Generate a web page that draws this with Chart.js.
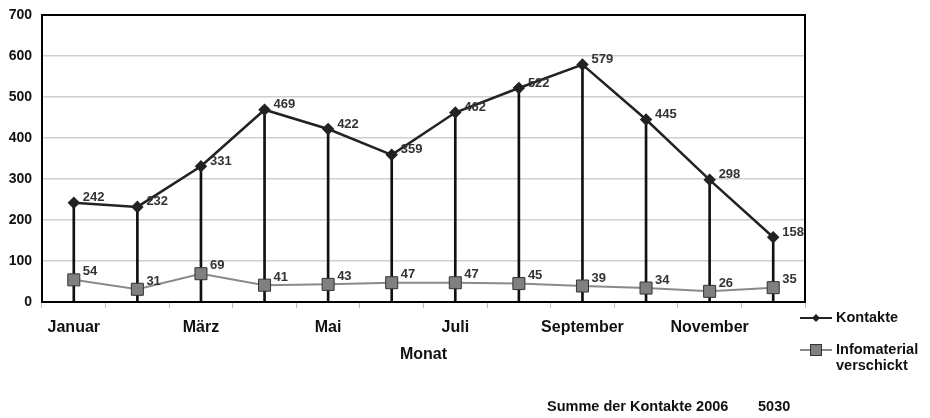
<!DOCTYPE html>
<html>
<head>
    <meta charset="utf-8">
    <title>Kontakte 2006</title>
    <script src="https://cdn.jsdelivr.net/npm/chart.js@4.4.1/dist/chart.umd.min.js"></script>
    <style>
        body { margin: 0; background: #fff; }
        #wrap { position: relative; width: 930px; height: 418px; }
    </style>
    <script>
        var months = ["Januar", "Februar", "März", "April", "Mai", "Juni", "Juli", "August", "September", "Oktober", "November", "Dezember"];
        var kontakte = [242, 232, 331, 469, 422, 359, 462, 522, 579, 445, 298, 158];
        var infomaterial = [54, 31, 69, 41, 43, 47, 47, 45, 39, 34, 26, 35];
        var yTicks = [0, 100, 200, 300, 400, 500, 600, 700];
        var legendNames = [["Kontakte"], ["Infomaterial", "verschickt"]];
        var footerLabel = "Summe der Kontakte 2006";
        var footerValue = "5030";

        var FONT = "'Liberation Sans', Arial, sans-serif";

        // frame round the plot area, value labels, legend and footer
        var extras = {
            id: 'extras',
            afterDatasetsDraw: function (chart) {
                var ctx = chart.ctx;
                var a = chart.chartArea;
                ctx.save();
                ctx.strokeStyle = '#000';
                ctx.lineWidth = 2;
                ctx.strokeRect(a.left, a.top, a.right - a.left, a.bottom - a.top);

                ctx.font = 'bold 13px ' + FONT;
                ctx.fillStyle = '#333';
                ctx.textBaseline = 'middle';
                ctx.textAlign = 'left';
                chart.getDatasetMeta(2).data.forEach(function (pt, i) {
                    ctx.fillText(kontakte[i], pt.x + 9, pt.y - 5);
                });
                chart.getDatasetMeta(1).data.forEach(function (pt, i) {
                    ctx.fillText(infomaterial[i], pt.x + 9, pt.y - 8);
                });
                ctx.restore();
            },
            afterDraw: function (chart) {
                var ctx = chart.ctx;
                ctx.save();
                // legend
                var lx = 800;
                ctx.lineWidth = 2;
                ctx.strokeStyle = '#222';
                ctx.beginPath(); ctx.moveTo(lx, 318); ctx.lineTo(lx + 32, 318); ctx.stroke();
                ctx.fillStyle = '#222';
                ctx.beginPath();
                ctx.moveTo(lx + 16, 314); ctx.lineTo(lx + 20, 318); ctx.lineTo(lx + 16, 322); ctx.lineTo(lx + 12, 318);
                ctx.closePath(); ctx.fill();

                ctx.strokeStyle = '#888';
                ctx.beginPath(); ctx.moveTo(lx, 350); ctx.lineTo(lx + 32, 350); ctx.stroke();
                ctx.fillStyle = '#808080';
                ctx.fillRect(lx + 10, 344, 12, 12);
                ctx.strokeStyle = '#333';
                ctx.lineWidth = 1;
                ctx.strokeRect(lx + 10.5, 344.5, 11, 11);

                ctx.fillStyle = '#111';
                ctx.font = 'bold 14.5px ' + FONT;
                ctx.textBaseline = 'middle';
                ctx.textAlign = 'left';
                ctx.fillText(legendNames[0][0], lx + 36, 318);
                ctx.fillText(legendNames[1][0], lx + 36, 350);
                ctx.fillText(legendNames[1][1], lx + 36, 366);

                // footer
                ctx.font = 'bold 14.5px ' + FONT;
                ctx.fillText(footerLabel, 547, 407);
                ctx.fillText(footerValue, 758, 407);
                ctx.restore();
            }
        };

        window.addEventListener('load', function () {
            new Chart(document.getElementById('chart').getContext('2d'), {
                type: 'bar',
                data: {
                    labels: months,
                    datasets: [{
                        type: 'bar',
                        label: 'Fallinien',
                        data: kontakte.map(function (v) { return [0, v]; }),
                        backgroundColor: '#111',
                        barThickness: 2,
                        order: 3
                    }, {
                        type: 'line',
                        label: 'Infomaterial verschickt',
                        data: infomaterial,
                        borderColor: '#8a8a8a',
                        borderWidth: 2,
                        pointStyle: 'rect',
                        pointRadius: 8.5,
                        pointBackgroundColor: '#808080',
                        pointBorderColor: '#333',
                        pointBorderWidth: 1,
                        tension: 0,
                        order: 1
                    }, {
                        type: 'line',
                        label: 'Kontakte',
                        data: kontakte,
                        borderColor: '#222',
                        borderWidth: 2.5,
                        pointStyle: 'rectRot',
                        pointRadius: 4.5,
                        pointBackgroundColor: '#222',
                        pointBorderColor: '#222',
                        tension: 0,
                        order: 2
                    }]
                },
                options: {
                    responsive: false,
                    animation: false,
                    layout: { padding: { top: 15, right: 125, bottom: 50, left: 0 } },
                    plugins: {
                        legend: { display: false },
                        tooltip: { enabled: false }
                    },
                    scales: {
                        x: {
                            offset: true,
                            grid: {
                                offset: true,
                                drawOnChartArea: false,
                                drawTicks: true,
                                tickLength: 6,
                                color: '#bbb'
                            },
                            border: { display: false },
                            ticks: {
                                autoSkip: false,
                                maxRotation: 0,
                                padding: 10,
                                color: '#111',
                                font: { family: FONT, size: 16, weight: 'bold' },
                                callback: function (v, i) { return i % 2 === 0 ? months[i] : ''; }
                            },
                            title: {
                                display: true,
                                text: 'Monat',
                                color: '#111',
                                font: { family: FONT, size: 16, weight: 'bold' },
                                padding: { top: 4, bottom: 4 }
                            },
                            afterFit: function (s) { s.height = 66; s.paddingLeft = 0; s.paddingRight = 0; }
                        },
                        y: {
                            min: 0,
                            max: 700,
                            afterBuildTicks: function (s) { s.ticks = yTicks.map(function (v) { return { value: v }; }); },
                            grid: { color: '#cfcfcf', lineWidth: 1.5, drawTicks: false },
                            border: { display: false },
                            ticks: {
                                padding: 10,
                                color: '#111',
                                font: { family: FONT, size: 14, weight: 'bold' }
                            },
                            afterFit: function (s) { s.width = 42; s.paddingTop = 0; s.paddingBottom = 0; }
                        }
                    }
                },
                plugins: [extras]
            });
        });
    </script>
</head>
<body>
    <div id="wrap"><canvas id="chart" width="930" height="418"></canvas></div>
</body>
</html>
